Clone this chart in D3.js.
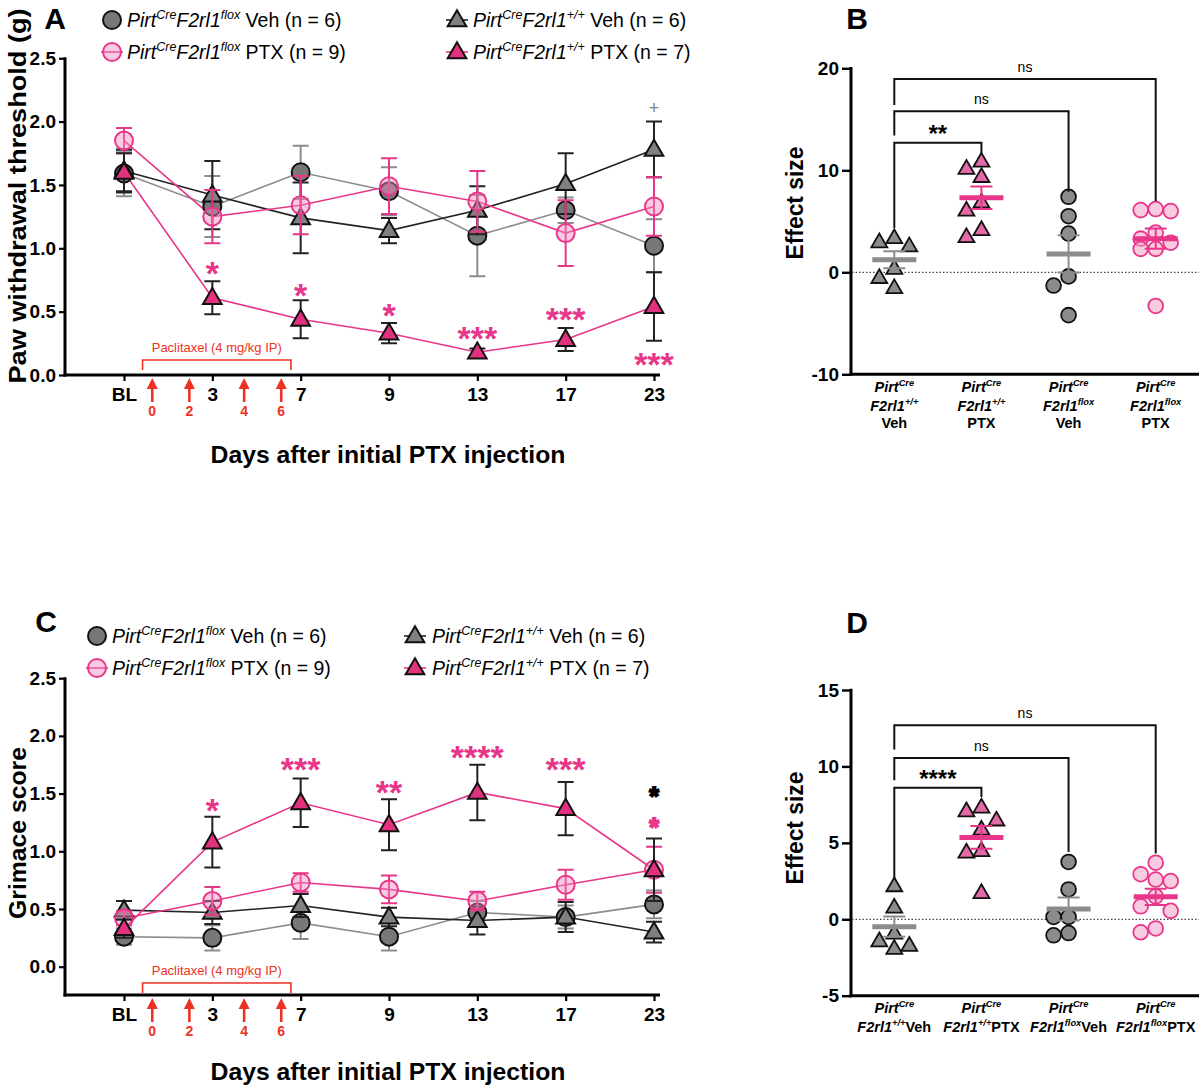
<!DOCTYPE html>
<html><head><meta charset="utf-8">
<script src="https://cdn.jsdelivr.net/npm/d3@7"></script>
<style>
body{margin:0;background:#fff}
svg{display:block}
text{font-family:"Liberation Sans",Arial,Helvetica,sans-serif}
</style>
</head><body>
<svg id="c" width="1200" height="1088"></svg>
<script>
// ---------------- DATA ----------------
const days = ["BL","3","7","9","13","17","23"];
const yTicksLine = [0,0.5,1.0,1.5,2.0,2.5];
const doseDays = ["0","2","4","6"];
const dosePos = [0.32,0.74,1.36,1.78]; // annotation anchors on day-index axis

// Panel A: paw withdrawal threshold (g), mean and SEM
const aFloxVehMean = [1.59,1.33,1.60,1.45,1.10,1.30,1.02];
const aFloxVehSem  = [0.18,0.24,0.21,0.19,0.32,0.10,0.21];
const aFloxPtxMean = [1.85,1.25,1.34,1.49,1.37,1.12,1.33];
const aFloxPtxSem  = [0.10,0.21,0.23,0.22,0.24,0.26,0.23];
const aWtVehMean   = [1.61,1.42,1.24,1.14,1.30,1.51,1.78];
const aWtVehSem    = [0.17,0.27,0.28,0.10,0.19,0.24,0.22];
const aWtPtxMean   = [1.60,0.61,0.44,0.33,0.18,0.28,0.54];
const aWtPtxSem    = [0.15,0.13,0.15,0.08,0.03,0.09,0.27];
const aMarks = [
  {i:1,t:"*",v:0.87,c:"pink"},{i:2,t:"*",v:0.70,c:"pink"},{i:3,t:"*",v:0.54,c:"pink"},
  {i:4,t:"***",v:0.36,c:"pink"},{i:5,t:"***",v:0.51,c:"pink"},{i:6,t:"***",v:0.15,c:"pink"},
  {i:6,t:"+",v:2.11,c:"gray"}
];

// Panel C: grimace score, mean and SEM
const cFloxVehMean = [0.26,0.25,0.38,0.26,0.47,0.43,0.54];
const cFloxVehSem  = [0.07,0.11,0.14,0.12,0.10,0.10,0.12];
const cFloxPtxMean = [0.42,0.57,0.73,0.67,0.57,0.71,0.84];
const cFloxPtxSem  = [0.06,0.12,0.08,0.12,0.08,0.13,0.20];
const cWtVehMean   = [0.49,0.47,0.53,0.43,0.40,0.43,0.30];
const cWtVehSem    = [0.08,0.10,0.10,0.08,0.12,0.13,0.09];
const cWtPtxMean   = [0.33,1.08,1.42,1.23,1.51,1.37,0.84];
const cWtPtxSem    = [0.08,0.22,0.21,0.22,0.24,0.23,0.27];
const cMarks = [
  {i:1,t:"*",v:1.43,c:"pink"},{i:2,t:"***",v:1.79,c:"pink"},{i:3,t:"**",v:1.59,c:"pink"},
  {i:4,t:"****",v:1.89,c:"pink"},{i:5,t:"***",v:1.79,c:"pink"},
  {i:6,t:"*",v:1.53,c:"black"},{i:6,t:"*",v:1.26,c:"pink"}
];

// Panel B: effect size, individual animals
const bWtVeh   = [3.0,3.4,2.6,0.4,-0.5,-1.5];
const bWtPtx   = [10.9,9.4,10.2,6.9,6.1,4.2,3.5];
const bFloxVeh = [7.4,5.5,3.8,-0.4,-1.3,-4.2];
const bFloxPtx = [6.2,6.0,6.1,3.3,3.9,2.3,2.3,2.9,-3.3];
const bTicks = [-10,0,10,20];
const bBrackets = [
  {to:1,y:12.7,l:4.35,r:11.7,t:"**"},
  {to:2,y:15.8,l:13.4,r:7.9,t:"ns"},
  {to:3,y:18.96,l:16.4,r:6.96,t:"ns"}
];

// Panel D: effect size, individual animals
const dWtVeh   = [2.2,0.8,-0.9,-1.4,-1.7,-1.9];
const dWtPtx   = [7.1,7.35,6.5,5.9,4.4,4.5,1.75];
const dFloxVeh = [3.75,1.95,0.15,0.15,-1.05,-0.9];
const dFloxPtx = [3.7,2.95,2.6,2.5,1.5,0.85,0.55,-0.6,-0.85];
const dTicks = [-5,0,5,10,15];
const dBrackets = [
  {to:1,y:8.6,l:2.66,r:8.0,t:"****"},
  {to:2,y:10.55,l:9.1,r:4.4,t:"ns"},
  {to:3,y:12.7,l:11.1,r:4.3,t:"ns"}
];

// ---------------- STYLE ----------------
const PINK = "#e8368a", PINKTRI = "#e2317f", PINKTRI2 = "#e26aa6";
const GRAY = "#8c8c8c", GRAYFILL = "#787878", RED = "#ec3323", INK = "#111";
const svg = d3.select("#c");

function rich(g, x, y, parts, size, opt = {}) {
  const t = g.append("text").attr("x", x).attr("y", y).attr("font-size", size)
    .attr("text-anchor", opt.anchor || "start").attr("fill", opt.fill || "#000");
  let shift = 0;
  parts.forEach(([txt, st]) => {
    const sup = st.includes("s");
    const target = sup ? -size * 0.42 : 0;
    t.append("tspan").attr("dy", target - shift).text(txt)
      .attr("font-size", sup ? size * 0.64 : size)
      .attr("font-style", st.includes("i") ? "italic" : "normal")
      .attr("font-weight", st.includes("b") ? "bold" : "normal");
    shift = target;
  });
  return t;
}
const lbl = (sup, tail) => [["Pirt","i"],["Cre","is"],["F2rl1","i"],[sup,"is"],[tail,""]];

function marker(g, kind, cx, cy, big) {
  const r = big ? 9 : 7.4, triA = big ? 150 : 110;
  const st = {
    circGray:  {shape:"c", fill:GRAYFILL, stroke:INK, sw:2},
    circPink:  {shape:"c", fill:"rgba(240,140,190,0.45)", stroke:PINK, sw:2},
    triGray:   {shape:"t", fill:"#808080", stroke:INK, sw:2},
    triPink:   {shape:"t", fill:PINKTRI, stroke:INK, sw:2},
    dTriGray:  {shape:"t", fill:"#8c8c8c", stroke:INK, sw:1.8},
    dTriPink:  {shape:"t", fill:PINKTRI2, stroke:INK, sw:1.8},
    dCircGray: {shape:"c", fill:"#8c8c8c", stroke:INK, sw:1.8},
    dCircPink: {shape:"c", fill:"rgba(242,160,200,0.55)", stroke:PINK, sw:1.8}
  }[kind];
  if (st.shape === "c") {
    g.append("circle").attr("cx", cx).attr("cy", cy).attr("r", r)
      .attr("fill", st.fill).attr("stroke", st.stroke).attr("stroke-width", st.sw);
  } else {
    g.append("path").attr("d", d3.symbol(d3.symbolTriangle, triA)())
      .attr("transform", `translate(${cx},${cy + 1})`)
      .attr("fill", st.fill).attr("stroke", st.stroke).attr("stroke-width", st.sw)
      .attr("stroke-linejoin", "miter");
  }
}

// ---------------- LINE PANELS (A, C) ----------------
function linePanel(o) {
  const g = svg.append("g");
  const x = d3.scaleLinear().domain([0, days.length - 1]).range([124, 654]);
  const y = d3.scaleLinear().domain([0, 2.5]).range([o.y0, o.y0 - 2.5 * o.unit]);

  // y axis
  const ya = g.append("g").attr("transform", "translate(65,0)")
    .call(d3.axisLeft(y).tickValues(yTicksLine).tickFormat(d3.format(".1f")).tickSize(6).tickPadding(3));
  ya.select(".domain").remove();
  ya.selectAll(".tick line").attr("stroke", "#000").attr("stroke-width", 2.2);
  ya.selectAll(".tick text").attr("font-size", 19).attr("font-weight", "bold")
    .attr("fill", "#000").attr("font-family", null);
  g.append("line").attr("x1", 65).attr("x2", 65).attr("y1", y(2.5) - 1).attr("y2", o.axisY + 1.5)
    .attr("stroke", "#000").attr("stroke-width", 3);
  // x axis
  const xa = g.append("g").attr("transform", `translate(0,${o.axisY})`)
    .call(d3.axisBottom(x).tickValues(d3.range(days.length)).tickFormat(i => days[i]).tickSize(6).tickPadding(7));
  xa.select(".domain").remove();
  xa.selectAll(".tick line").attr("stroke", "#000").attr("stroke-width", 2.2);
  xa.selectAll(".tick text").attr("font-size", 19).attr("font-weight", "bold")
    .attr("fill", "#000").attr("font-family", null);
  g.append("line").attr("x1", 63.5).attr("x2", 660).attr("y1", o.axisY).attr("y2", o.axisY)
    .attr("stroke", "#000").attr("stroke-width", 3);

  // paclitaxel bracket
  const bx1 = x(0.21), bx2 = x(1.89);
  g.append("path").attr("d", `M${bx1},${o.brY + 10}V${o.brY}H${bx2}V${o.brY + 10}`)
    .attr("fill", "none").attr("stroke", RED).attr("stroke-width", 1.6);
  g.append("text").attr("x", (bx1 + bx2) / 2).attr("y", o.brY - 8).attr("text-anchor", "middle")
    .attr("font-size", 13).attr("fill", RED).text("Paclitaxel (4 mg/kg IP)");
  // dose arrows
  doseDays.forEach((d, k) => {
    const ax = x(dosePos[k]);
    const tip = o.axisY + 3, tail = o.axisY + 27;
    g.append("line").attr("x1", ax).attr("x2", ax).attr("y1", tip + 8).attr("y2", tail)
      .attr("stroke", RED).attr("stroke-width", 2.6);
    g.append("path").attr("d", `M${ax},${tip}L${ax - 5.5},${tip + 11}L${ax + 5.5},${tip + 11}Z`).attr("fill", RED);
    g.append("text").attr("x", ax).attr("y", o.axisY + 41).attr("text-anchor", "middle")
      .attr("font-size", 14).attr("font-weight", "bold").attr("fill", RED).text(d);
  });

  // series
  const ser = o.series;
  const line = d3.line().x((d, i) => x(i)).y(d => y(d));
  ser.forEach(s => g.append("path").attr("d", line(s.mean)).attr("fill", "none")
    .attr("stroke", s.line).attr("stroke-width", 1.6));
  ser.forEach(s => {
    s.mean.forEach((m, i) => {
      const cx = x(i), e = s.sem[i];
      g.append("path").attr("d",
        `M${cx},${y(m + e)}V${y(m - e)}M${cx - 8},${y(m + e)}H${cx + 8}M${cx - 8},${y(m - e)}H${cx + 8}`)
        .attr("stroke", s.err).attr("stroke-width", 2).attr("fill", "none");
      marker(g, s.kind, cx, y(m), true);
    });
  });

  // significance marks
  const colOf = c => c === "pink" ? PINK : c === "gray" ? "#808080" : "#000";
  o.marks.filter(m => m.t === "+").forEach(m => {
    g.append("text").attr("x", x(m.i)).attr("y", y(m.v) + 6).attr("text-anchor", "middle")
      .attr("font-size", 18).attr("fill", colOf(m.c)).text("+");
  });
  const starGroups = d3.group(o.marks.filter(m => m.t !== "+"), m => m.i);
  starGroups.forEach((arr, i) => {
    const stacked = arr.length > 1;              // stacked stars: smaller face, thickened by stroke
    const fs = stacked ? 25 : 34;
    arr.forEach(m => {
      g.append("text").attr("x", x(i)).attr("y", y(m.v) + fs * 0.6)
        .attr("text-anchor", "middle").attr("font-size", fs).attr("font-weight", "bold")
        .attr("fill", colOf(m.c)).attr("stroke", stacked ? colOf(m.c) : "none")
        .attr("stroke-width", stacked ? 1.8 : 0).text(m.t);
    });
  });

  // titles
  g.append("text").attr("transform", `translate(${26},${o.yTitleY}) rotate(-90)`)
    .attr("text-anchor", "middle").attr("font-size", 24).attr("font-weight", "bold")
    .attr("textLength", o.yTitleLen).attr("lengthAdjust", "spacingAndGlyphs").text(o.yTitle);
  g.append("text").attr("x", 388).attr("y", o.xTitleY).attr("text-anchor", "middle")
    .attr("font-size", 24).attr("font-weight", "bold")
    .attr("textLength", 355).attr("lengthAdjust", "spacingAndGlyphs").text("Days after initial PTX injection");

  // legend
  const L = o.leg;
  g.append("text").attr("x", L.letterX).attr("y", L.letterY).attr("text-anchor", "middle")
    .attr("font-size", 30).attr("font-weight", "bold").text(o.letter);
  const items = [
    {col:0,row:0,kind:"circGray",line:null,txt:lbl("flox"," Veh (n = 6)")},
    {col:0,row:1,kind:"circPink",line:PINK,txt:lbl("flox"," PTX (n = 9)")},
    {col:1,row:0,kind:"triGray",line:"#222",txt:lbl("+/+"," Veh (n = 6)")},
    {col:1,row:1,kind:"triPink",line:PINK,txt:lbl("+/+"," PTX (n = 7)")}
  ];
  items.forEach(it => {
    const mx = L.mx[it.col], my = L.ry[it.row];
    if (it.line) g.append("line").attr("x1", mx - 11).attr("x2", mx + 11).attr("y1", my).attr("y2", my)
      .attr("stroke", it.line).attr("stroke-width", 1.6);
    marker(g, it.kind, mx, my, true);
    rich(g, L.tx[it.col], my + 7, it.txt, 19.5);
  });
}

linePanel({
  letter: "A", y0: 375, unit: 126.7, axisY: 375, brY: 360,
  yTitle: "Paw withdrawal threshold (g)", yTitleY: 196, yTitleLen: 375, xTitleY: 463,
  leg: {letterX: 55, letterY: 29, mx: [112, 457], tx: [127, 473], ry: [20, 52]},
  marks: aMarks,
  series: [
    {mean: aFloxVehMean, sem: aFloxVehSem, kind: "circGray", line: GRAY, err: GRAY},
    {mean: aWtVehMean, sem: aWtVehSem, kind: "triGray", line: "#222", err: "#222"},
    {mean: aFloxPtxMean, sem: aFloxPtxSem, kind: "circPink", line: PINK, err: PINK},
    {mean: aWtPtxMean, sem: aWtPtxSem, kind: "triPink", line: PINK, err: "#222"}
  ]
});
linePanel({
  letter: "C", y0: 966.7, unit: 115.4, axisY: 995, brY: 983,
  yTitle: "Grimace score", yTitleY: 833, yTitleLen: 172, xTitleY: 1080,
  leg: {letterX: 46, letterY: 632, mx: [97, 415], tx: [112, 432], ry: [636, 668]},
  marks: cMarks,
  series: [
    {mean: cFloxVehMean, sem: cFloxVehSem, kind: "circGray", line: GRAY, err: GRAY},
    {mean: cWtVehMean, sem: cWtVehSem, kind: "triGray", line: "#222", err: "#222"},
    {mean: cFloxPtxMean, sem: cFloxPtxSem, kind: "circPink", line: PINK, err: PINK},
    {mean: cWtPtxMean, sem: cWtPtxSem, kind: "triPink", line: PINK, err: "#222"}
  ]
});

// ---------------- DOT PANELS (B, D) ----------------
function swarm(vals, y, d, thr) {
  const order = vals.map((v, i) => i).sort((a, b) => vals[b] - vals[a]);
  const placed = [], off = new Array(vals.length).fill(0);
  order.forEach(i => {
    const py = y(vals[i]);
    let best = 0, bestD = -1;
    for (const c of [0, -d, d]) {
      const md = placed.length ? d3.min(placed, p => Math.hypot(p.x - c, p.y - py)) : Infinity;
      if (md >= thr) { best = c; bestD = md; break; }
      if (md > bestD) { bestD = md; best = c; }
    }
    off[i] = best; placed.push({x: best, y: py});
  });
  return off;
}

function dotPanel(o) {
  const g = svg.append("g");
  const y = d3.scaleLinear().domain(o.domain).range(o.range);
  const x = d3.scalePoint().domain(d3.range(4)).range([894.3, 1155.7]);
  const ya = g.append("g").attr("transform", "translate(851,0)")
    .call(d3.axisLeft(y).tickValues(o.ticks).tickFormat(d => String(d)).tickSize(9).tickPadding(3));
  ya.select(".domain").remove();
  ya.selectAll(".tick line").attr("stroke", "#000").attr("stroke-width", 2.4);
  ya.selectAll(".tick text").attr("font-size", 19).attr("font-weight", "bold")
    .attr("fill", "#000").attr("font-family", null);
  g.append("line").attr("x1", 851).attr("x2", 851).attr("y1", y(o.domain[1]) - 1.2).attr("y2", y(o.domain[0]) + 1.5)
    .attr("stroke", "#000").attr("stroke-width", 3);
  g.append("line").attr("x1", 849.5).attr("x2", 1199).attr("y1", y(o.domain[0])).attr("y2", y(o.domain[0]))
    .attr("stroke", "#000").attr("stroke-width", 3);
  g.append("line").attr("x1", 852).attr("x2", 1199).attr("y1", y(0)).attr("y2", y(0))
    .attr("stroke", "#444").attr("stroke-width", 1.2).attr("stroke-dasharray", "1.5,2");

  const kinds = ["dTriGray", "dTriPink", "dCircGray", "dCircPink"];
  const meanCol = [GRAY, PINK, GRAY, PINK];
  o.groups.forEach((vals, gi) => {
    const off = swarm(vals, y, 15, 15);
    vals.forEach((v, k) => marker(g, kinds[gi], x(gi) + off[k], y(v), false));
    const m = d3.mean(vals), se = d3.deviation(vals) / Math.sqrt(vals.length), cx = x(gi);
    g.append("path").attr("d",
      `M${cx},${y(m + se)}V${y(m - se)}M${cx - 11},${y(m + se)}H${cx + 11}M${cx - 11},${y(m - se)}H${cx + 11}`)
      .attr("stroke", meanCol[gi]).attr("stroke-width", 2).attr("fill", "none");
    g.append("line").attr("x1", cx - 22).attr("x2", cx + 22).attr("y1", y(m)).attr("y2", y(m))
      .attr("stroke", meanCol[gi]).attr("stroke-width", 5);
  });

  // brackets
  o.brackets.forEach(b => {
    const x1 = x(0), x2 = x(b.to);
    g.append("path").attr("d", `M${x1},${y(b.l)}V${y(b.y)}H${x2}V${y(b.r)}`)
      .attr("fill", "none").attr("stroke", "#111").attr("stroke-width", 2);
    const star = b.t !== "ns";
    g.append("text").attr("x", (x1 + x2) / 2).attr("y", star ? y(b.y) - 1 : y(b.y) - 7)
      .attr("text-anchor", "middle").attr("font-size", star ? 24 : 14)
      .attr("font-weight", star ? "bold" : "normal").text(b.t);
  });

  // category labels
  o.catLines.forEach((lines, gi) => {
    lines.forEach((parts, li) => rich(g, x(gi), o.catY[li], parts, 14.5, {anchor: "middle"}));
  });

  g.append("text").attr("transform", `translate(${803},${o.titleY}) rotate(-90)`)
    .attr("text-anchor", "middle").attr("font-size", 24).attr("font-weight", "bold")
    .attr("textLength", 113).attr("lengthAdjust", "spacingAndGlyphs").text("Effect size");
  g.append("text").attr("x", 857).attr("y", o.letterY).attr("text-anchor", "middle")
    .attr("font-size", 30).attr("font-weight", "bold").text(o.letter);
}

const pc = [["Pirt","bi"],["Cre","bis"]];
dotPanel({
  letter: "B", letterY: 29, domain: [-10, 20], range: [374.3, 68.3], ticks: bTicks,
  groups: [bWtVeh, bWtPtx, bFloxVeh, bFloxPtx], brackets: bBrackets, titleY: 203,
  catY: [392, 411, 428],
  catLines: [
    [pc, [["F2rl1","bi"],["+/+","bis"]], [["Veh","b"]]],
    [pc, [["F2rl1","bi"],["+/+","bis"]], [["PTX","b"]]],
    [pc, [["F2rl1","bi"],["flox","bis"]], [["Veh","b"]]],
    [pc, [["F2rl1","bi"],["flox","bis"]], [["PTX","b"]]]
  ]
});
dotPanel({
  letter: "D", letterY: 633, domain: [-5, 15], range: [995.7, 690], ticks: dTicks,
  groups: [dWtVeh, dWtPtx, dFloxVeh, dFloxPtx], brackets: dBrackets, titleY: 828,
  catY: [1013, 1032],
  catLines: [
    [pc, [["F2rl1","bi"],["+/+","bis"],["Veh","b"]]],
    [pc, [["F2rl1","bi"],["+/+","bis"],["PTX","b"]]],
    [pc, [["F2rl1","bi"],["flox","bis"],["Veh","b"]]],
    [pc, [["F2rl1","bi"],["flox","bis"],["PTX","b"]]]
  ]
});
</script>
</body></html>
